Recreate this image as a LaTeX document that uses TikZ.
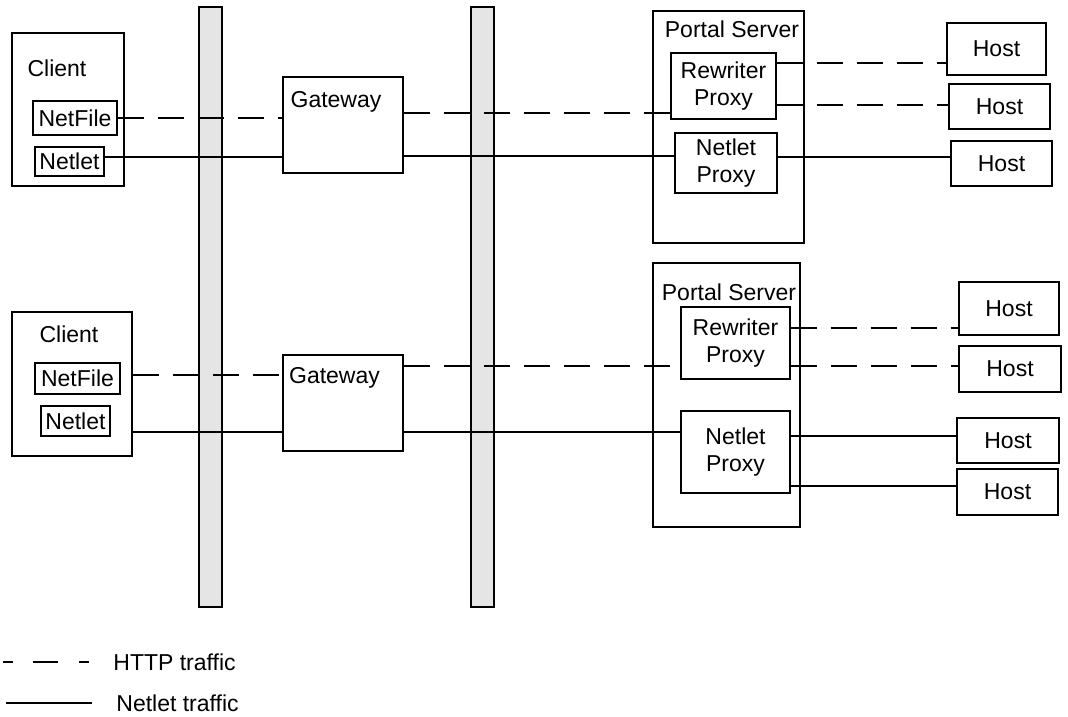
\documentclass[tikz,border=0pt]{standalone}
\usepackage{fontspec}
\setmainfont{Liberation Sans}
\usepackage{tikz}
\usetikzlibrary{positioning, calc}

\begin{document}
\begin{tikzpicture}[
    x=0.5pt, y=-0.5pt,
    font=\fontsize{11.5}{13.8}\selectfont,
    box/.style={draw, line width=0.7pt, inner sep=1pt, align=center},
    wall/.style={draw, line width=0.7pt, fill=gray!20, minimum width=11.5pt, minimum height=300pt},
    tag/.style={inner sep=0pt, anchor=base},
    http/.style={line width=0.7pt, dash pattern=on 13pt off 7pt},
    netlet/.style={line width=0.7pt}
]
  \useasboundingbox (0,0) rectangle (1068,716);

  % Firewalls
  \node[wall] (fw1) at (210.5,307) {};
  \node[wall] (fw2) at (482.5,307) {};

  % Upper setup
  \node[box, minimum width=56pt, minimum height=76.5pt] (clA) at (68,109.5) {};
  \node[tag] (clAt) at (57,77) {Client};
  \node[box, minimum width=42pt, minimum height=17pt] (nfA) at (75,118) {NetFile};
  \node[box, minimum width=34.5pt, minimum height=14.5pt] (nlA) at (69.5,161.5) {Netlet};
  \node[box, minimum width=60pt, minimum height=48pt] (gwA) at (343,125) {};
  \node[tag] (gwAt) at (336,108) {Gateway};
  \node[box, minimum width=75.5pt, minimum height=116pt] (psA) at (728.5,127) {};
  \node[tag] (psAt) at (732,38) {Portal Server};
  \node[box, minimum width=52.5pt, minimum height=33pt] (rwA) at (723.5,86) {Rewriter\\Proxy};
  \node[box, minimum width=51pt, minimum height=30pt] (npA) at (726,163) {Netlet\\Proxy};
  \node[box, minimum width=49.5pt, minimum height=26pt] (hA1) at (996.5,49) {Host};
  \node[box, minimum width=50.5pt, minimum height=22.5pt] (hA2) at (999.5,106.5) {Host};
  \node[box, minimum width=50.5pt, minimum height=22.5pt] (hA3) at (1001.5,163.5) {Host};

  \draw[http] (nfA.east) -- (nfA.east -| gwA.west);
  \draw[netlet] ($(nlA.east)+(0,-4.5)$) -- ($(nlA.east -| gwA.west)+(0,-4.5)$);
  \draw[http] ($(gwA.east)+(0,-12)$) -- ($(gwA.east -| rwA.west)+(0,-12)$);
  \draw[netlet] ($(gwA.east)+(0,31)$) -- ($(gwA.east -| npA.west)+(0,31)$);
  \draw[http] ($(rwA.east)+(0,-23)$) -- ($(rwA.east -| hA1.west)+(0,-23)$);
  \draw[http] ($(rwA.east |- hA2.west)+(0,-1.5)$) -- ($(hA2.west)+(0,-1.5)$);
  \draw[netlet] ($(npA.east)+(0,-6)$) -- ($(npA.east -| hA3.west)+(0,-6)$);

  % Lower setup
  \node[box, minimum width=60pt, minimum height=72pt] (clB) at (72,384) {};
  \node[tag] (clBt) at (69,342) {Client};
  \node[box, minimum width=42.5pt, minimum height=15.5pt] (nfB) at (77.5,378.5) {NetFile};
  \node[box, minimum width=34.5pt, minimum height=15pt] (nlB) at (75.5,421) {Netlet};
  \node[box, minimum width=60pt, minimum height=48pt] (gwB) at (343,403) {};
  \node[tag] (gwBt) at (334.5,383) {Gateway};
  \node[box, minimum width=73.5pt, minimum height=132pt] (psB) at (726.5,395) {};
  \node[tag] (psBt) at (729,300) {Portal Server};
  \node[box, minimum width=54.5pt, minimum height=36pt] (rwB) at (735.5,343) {Rewriter\\Proxy};
  \node[box, minimum width=54.5pt, minimum height=41pt] (npB) at (735.5,452) {Netlet\\Proxy};
  \node[box, minimum width=50pt, minimum height=26.5pt] (hB1) at (1009,308.5) {Host};
  \node[box, minimum width=51pt, minimum height=23pt] (hB2) at (1010,369) {Host};
  \node[box, minimum width=51pt, minimum height=22.5pt] (hB3) at (1008,440.5) {Host};
  \node[box, minimum width=50.5pt, minimum height=23pt] (hB4) at (1007.5,492) {Host};

  \draw[http] ($(clB.east |- nfB.east)+(0,-3.5)$) -- ($(nfB.east -| gwB.west)+(0,-3.5)$);
  \draw[netlet] ($(clB.east)+(0,48)$) -- ($(clB.east -| gwB.west)+(0,48)$);
  \draw[http] ($(gwB.east)+(0,-37)$) -- ($(gwB.east -| rwB.west)+(0,-37)$);
  \draw[netlet] ($(gwB.east)+(0,29)$) -- ($(gwB.east -| npB.west)+(0,29)$);
  \draw[http] ($(rwB.east)+(0,-15)$) -- ($(rwB.east -| hB1.west)+(0,-15)$);
  \draw[http] ($(rwB.east)+(0,23)$) -- ($(rwB.east -| hB2.west)+(0,23)$);
  \draw[netlet] ($(npB.east)+(0,-16)$) -- ($(npB.east -| hB3.west)+(0,-16)$);
  \draw[netlet] ($(npB.east)+(0,34)$) -- ($(npB.east -| hB4.west)+(0,34)$);

  % Legend
  \coordinate (lg1a) at (3,662);
  \coordinate (lg1b) at (90,662);
  \draw[line width=0.7pt, dash pattern=on 5pt off 10pt on 12.5pt off 10.5pt on 5pt] (lg1a) -- (lg1b);
  \node[inner sep=0pt, right=11.5pt of lg1b] (lg1t) {HTTP traffic};
  \coordinate (lg2a) at (6,703);
  \coordinate (lg2b) at (92,703);
  \draw[netlet] (lg2a) -- (lg2b);
  \node[inner sep=0pt, right=12pt of lg2b] (lg2t) {Netlet traffic};
\end{tikzpicture}
\end{document}
